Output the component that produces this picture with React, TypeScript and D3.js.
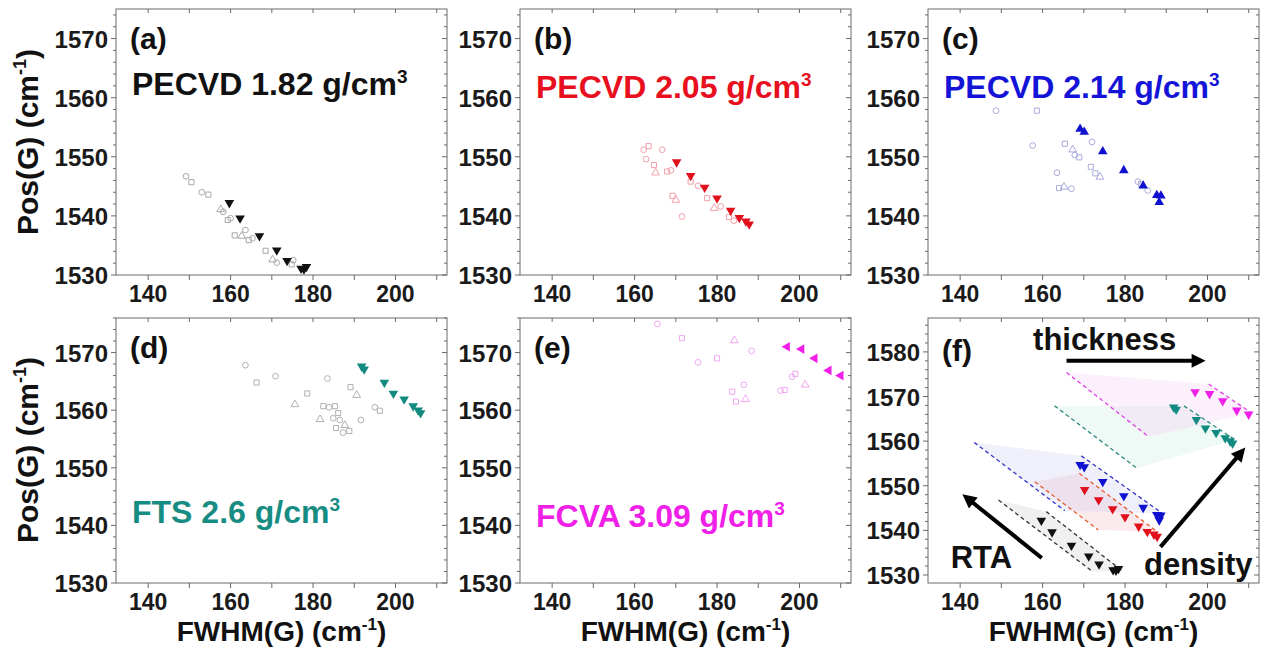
import React from 'react';
import * as d3 from 'd3';

type P = [number, number];

// tick labels
const xTicks = [140, 160, 180, 200];
const yTicks = [1530, 1540, 1550, 1560, 1570];
const yTicksF = [1530, 1540, 1550, 1560, 1570, 1580];

// (a) PECVD 1.82 g/cm3
const aOpen: P[] = [[149.2,1546.7],[150.5,1545.7],[153.0,1544.0],[154.6,1543.6],[157.6,1541.1],[158.2,1540.7],[159.3,1539.3],[160.0,1539.6],[161.0,1536.7],[162.7,1536.6],[163.6,1537.6],[164.4,1535.9],[165.3,1536.2],[168.5,1534.1],[170.2,1532.6],[171.2,1532.1],[174.8,1531.8],[175.2,1532.5]];
const aRta: P[] = [[159.7,1542.2],[162.3,1539.6],[167.0,1536.6],[171.2,1534.2],[173.7,1532.4],[177.1,1531.1],[177.8,1531.0],[178.4,1531.4]];

// (b) PECVD 2.05 g/cm3
const bOpen: P[] = [[162.2,1551.2],[163.4,1551.8],[162.8,1549.6],[164.7,1548.6],[165.1,1547.3],[166.7,1551.2],[167.9,1547.5],[168.8,1547.7],[169.2,1543.4],[170.0,1542.7],[171.5,1539.9],[173.6,1545.8],[175.4,1545.1],[177.6,1543.0],[179.3,1541.3],[180.9,1541.6],[182.9,1539.8],[184.1,1539.2]];
const bRta: P[] = [[170.2,1549.1],[173.6,1546.8],[177.0,1544.8],[180.0,1543.0],[183.3,1540.9],[185.4,1539.7],[187.0,1539.1],[187.8,1538.6]];

// (c) PECVD 2.14 g/cm3
const cOpen: P[] = [[148.7,1557.8],[158.6,1557.8],[157.6,1551.9],[165.4,1552.2],[167.3,1551.2],[167.8,1550.3],[168.9,1549.9],[163.5,1547.3],[164.0,1544.7],[165.2,1544.9],[167.0,1544.6],[171.7,1548.3],[172.0,1552.5],[172.8,1547.2],[173.9,1546.6],[183.1,1545.8],[183.9,1545.4],[185.5,1544.3]];
const cRta: P[] = [[169.1,1554.7],[170.1,1554.2],[174.6,1550.9],[179.7,1547.7],[184.4,1545.1],[187.7,1543.5],[188.7,1543.4],[188.3,1542.3]];

// (d) FTS 2.6 g/cm3
const dOpen: P[] = [[163.6,1567.8],[166.3,1564.8],[170.9,1565.9],[178.6,1562.9],[175.6,1561.0],[183.5,1565.5],[182.5,1560.7],[183.9,1560.5],[185.3,1560.7],[181.7,1558.4],[184.9,1558.6],[186.1,1559.5],[186.5,1558.3],[185.6,1556.9],[187.7,1557.4],[187.3,1556.1],[188.8,1556.4],[191.6,1558.3],[189.1,1564.0],[190.6,1562.6],[195.0,1560.5],[196.2,1559.9]];
const dRta: P[] = [[191.8,1567.6],[192.4,1567.1],[197.3,1564.8],[199.5,1562.9],[202.1,1561.9],[204.3,1560.7],[205.5,1560.0],[206.1,1559.5]];

// (e) FCVA 3.09 g/cm3
const eOpen: P[] = [[165.5,1575.0],[171.5,1572.5],[175.4,1568.3],[180.0,1569.0],[184.2,1572.1],[188.4,1570.3],[183.7,1563.2],[186.5,1564.4],[184.6,1561.5],[186.9,1561.9],[195.4,1563.4],[196.4,1563.5],[198.2,1565.8],[199.0,1566.3],[201.4,1564.4]];
const eRta: P[] = [[197.0,1571.0],[200.5,1570.6],[203.7,1569.0],[207.1,1566.9],[210.0,1566.0]];

// (f) guide lines (pairs of dashed lines bounding each band)
const fBlackLines: P[][] = [[[149.3,1546.8],[172.2,1530.7]], [[160.9,1544.2],[179.2,1531.0]]];
const fRedLines: P[][] = [[[158.1,1550.9],[173.5,1540.1]], [[168.9,1552.8],[187.8,1539.7]]];
const fBlueLines: P[][] = [[[143.4,1559.7],[165.4,1544.4]], [[169.4,1556.7],[189.1,1543.8]]];
const fTealLines: P[][] = [[[162.9,1567.9],[182.9,1553.9]], [[194.3,1567.9],[206.7,1560.3]]];
const fMagLines: P[][] = [[[165.8,1575.4],[185.7,1561.0]], [[200.3,1572.8],[210.7,1566.3]]];

// (f) annotation arrows
const thicknessArrow: P[] = [[165.8,1578.0],[198.2,1578.0]];
const rtaArrow: P[] = [[159.8,1533.8],[141.6,1547.3]];
const densityArrow: P[] = [[188.6,1536.3],[208.3,1557.6]];

const FONT = "'Liberation Sans', Arial, Helvetica, sans-serif";
const PW = 331;
const xDomain: [number, number] = [132.2, 212.5];

type Panel = {
  id: string; left: number; top: number; bottom: number;
  yDomain: [number, number]; yt: number[];
  open: P[]; rta: P[]; openColor: string; color: string; marker: string;
  title?: string; titleColor?: string; titleY?: number;
};

const panels: Panel[] = [
  { id: 'a', left: 116, top: 9, bottom: 275, yDomain: [1530, 1575], yt: yTicks, open: aOpen, rta: aRta,
    openColor: '#a8a8a8', color: '#111', marker: 'down', title: 'PECVD 1.82 g/cm', titleColor: '#111', titleY: 95 },
  { id: 'b', left: 520, top: 9, bottom: 275, yDomain: [1530, 1575], yt: yTicks, open: bOpen, rta: bRta,
    openColor: '#f2a0a8', color: '#e0101c', marker: 'down', title: 'PECVD 2.05 g/cm', titleColor: '#e8101e', titleY: 98 },
  { id: 'c', left: 928, top: 9, bottom: 275, yDomain: [1530, 1575], yt: yTicks, open: cOpen, rta: cRta,
    openColor: '#aaaadc', color: '#1010d0', marker: 'up', title: 'PECVD 2.14 g/cm', titleColor: '#1414d8', titleY: 98 },
  { id: 'd', left: 116, top: 318, bottom: 583, yDomain: [1530, 1576], yt: yTicks, open: dOpen, rta: dRta,
    openColor: '#b0b0b0', color: '#138a80', marker: 'down', title: 'FTS 2.6 g/cm', titleColor: '#168c82', titleY: 523 },
  { id: 'e', left: 520, top: 318, bottom: 583, yDomain: [1530, 1576], yt: yTicks, open: eOpen, rta: eRta,
    openColor: '#f0a8f0', color: '#f020e8', marker: 'left', title: 'FCVA 3.09 g/cm', titleColor: '#f020e8', titleY: 527 },
  { id: 'f', left: 928, top: 318, bottom: 583, yDomain: [1528.2, 1587.6], yt: yTicksF, open: [], rta: [],
    openColor: '#000', color: '#000', marker: 'down' },
];

const fSeries = [
  { pts: aRta, lines: fBlackLines, color: '#111', dash: '#333', band: '#c8c8c8' },
  { pts: bRta, lines: fRedLines, color: '#e0101c', dash: '#e85a30', band: '#f6b8c0' },
  { pts: cRta, lines: fBlueLines, color: '#1010d0', dash: '#3434c8', band: '#c8c8f0' },
  { pts: dRta, lines: fTealLines, color: '#138a80', dash: '#2a8a80', band: '#c4e8de' },
  { pts: eRta, lines: fMagLines, color: '#f020e8', dash: '#e040e0', band: '#f6c8f4' },
];

const rot: Record<string, number> = { down: 180, up: 0, left: -90 };
const triPath = d3.symbol().type(d3.symbolTriangle).size(40)() as string;
const openTypes = [d3.symbolCircle, d3.symbolSquare, d3.symbolCircle, d3.symbolSquare, d3.symbolTriangle];

function PanelView({ p }: { p: Panel }) {
  const x = d3.scaleLinear().domain(xDomain).range([p.left, p.left + PW]);
  const y = d3.scaleLinear().domain(p.yDomain).range([p.bottom, p.top]);
  const right = p.left + PW;
  const xt = d3.range(140, 211, 10);
  const yMinor = d3.range(Math.ceil(p.yDomain[0] / 2) * 2, p.yDomain[1] + 0.01, 2);
  const line = d3.line<P>().x(d => x(d[0])).y(d => y(d[1]));
  const isF = p.id === 'f';

  return (
    <g>
      {isF && fSeries.map((s, i) => {
        const [a, b] = s.lines;
        const poly = [a[0], b[0], b[1], a[1]];
        return <path key={'band' + i} d={(line(poly) as string) + 'Z'} fill={s.band} opacity={0.28} />;
      })}
      {isF && fSeries.map((s, i) => s.lines.map((l, j) => (
        <path key={'dl' + i + j} d={line(l) as string} stroke={s.dash} strokeWidth={1.3} strokeDasharray="4,3" fill="none" />
      )))}
      {p.open.map((d, i) => (
        <path key={'o' + i} transform={`translate(${x(d[0])},${y(d[1])})`}
          d={d3.symbol().type(openTypes[i % openTypes.length]).size(26)() as string}
          fill="none" stroke={p.openColor} strokeWidth={1} />
      ))}
      {p.rta.map((d, i) => (
        <path key={'r' + i} transform={`translate(${x(d[0])},${y(d[1])}) rotate(${rot[p.marker]})`}
          d={triPath} fill={p.color} />
      ))}
      {isF && fSeries.map((s, i) => s.pts.map((d, j) => (
        <path key={'fp' + i + j} transform={`translate(${x(d[0])},${y(d[1])}) rotate(180)`}
          d={triPath} fill={s.color} />
      )))}
      {isF && [thicknessArrow, rtaArrow, densityArrow].map((a, i) => (
        <line key={'ar' + i} x1={x(a[0][0])} y1={y(a[0][1])} x2={x(a[1][0])} y2={y(a[1][1])}
          stroke="#000" strokeWidth={4} markerEnd="url(#arrow)" />
      ))}

      {/* frame and ticks */}
      <rect x={p.left} y={p.top} width={PW} height={p.bottom - p.top} fill="none" stroke="#6a6a6a" strokeWidth={1} />
      {xt.map(v => (
        <g key={'xt' + v} stroke="#6a6a6a">
          <line x1={x(v)} x2={x(v)} y1={p.bottom} y2={p.bottom + 5} />
          <line x1={x(v)} x2={x(v)} y1={p.top} y2={p.top + 4} />
        </g>
      ))}
      {yMinor.map(v => {
        const major = v % 10 === 0;
        return (
          <g key={'yt' + v} stroke="#6a6a6a">
            <line x1={p.left - (major ? 5 : 3)} x2={p.left} y1={y(v)} y2={y(v)} />
            <line x1={right} x2={right - (major ? 5 : 3)} y1={y(v)} y2={y(v)} />
          </g>
        );
      })}
      {xTicks.map(v => (
        <text key={'xl' + v} x={x(v)} y={p.bottom + 27} textAnchor="middle" fontSize={23}
          fontWeight="bold" fill="#1a1a1a">{v}</text>
      ))}
      {p.yt.map(v => (
        <text key={'yl' + v} x={p.left - 8} y={y(v) + 9} textAnchor="end" fontSize={24}
          fontWeight="bold" fill="#1a1a1a">{v}</text>
      ))}

      <text x={p.left + 14} y={isF ? p.top + 43 : p.top + 40} fontSize={30} fontWeight="bold" fill="#111">({p.id})</text>
      {p.title && (
        <text x={p.left + 16} y={p.titleY} fontSize={32} fontWeight="bold" fill={p.titleColor}>
          {p.title}<tspan fontSize={19} dy={-12}>3</tspan>
        </text>
      )}
      {isF && (
        <g fontSize={31} fontWeight="bold" fill="#111">
          <text x={x(157.7)} y={y(1580.4)}>thickness</text>
          <text x={x(137.7)} y={y(1531.6)}>RTA</text>
          <text x={x(184.6)} y={y(1530.0)}>density</text>
        </g>
      )}
    </g>
  );
}

export default function App() {
  return (
    <div style={{ position: 'absolute', left: 0, top: 0 }}>
      <svg width={1261} height={651} style={{ display: 'block', background: '#fff' }} fontFamily={FONT}>
        <defs>
          <marker id="arrow" viewBox="0 0 10 10" refX={6} refY={5} markerWidth={16} markerHeight={14}
            markerUnits="userSpaceOnUse" orient="auto">
            <path d="M0,0 L10,5 L0,10 Z" fill="#000" />
          </marker>
        </defs>
        {panels.map(p => <PanelView key={p.id} p={p} />)}
        {[142, 450].map(cy => (
          <text key={'yt' + cy} transform={`translate(38,${cy}) rotate(-90)`} textAnchor="middle"
            fontSize={30} fontWeight="bold" fill="#111">
            Pos(G) (cm<tspan fontSize={18} dy={-12}>-1</tspan><tspan dy={12}>)</tspan>
          </text>
        ))}
        {[116, 520, 928].map(l => (
          <text key={'xt' + l} x={l + PW / 2} y={641} textAnchor="middle" fontSize={28} fontWeight="bold" fill="#111">
            FWHM(G) (cm<tspan fontSize={17} dy={-11}>-1</tspan><tspan dy={11}>)</tspan>
          </text>
        ))}
      </svg>
    </div>
  );
}
